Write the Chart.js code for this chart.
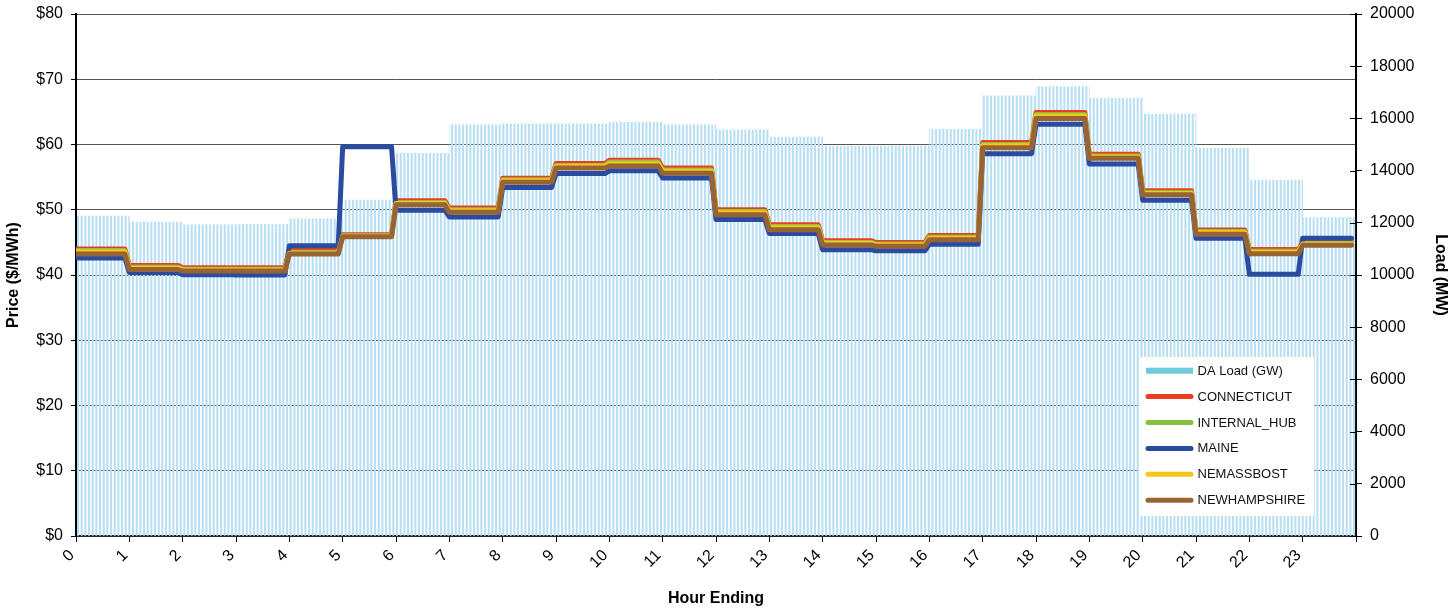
<!DOCTYPE html>
<html>
<head>
<meta charset="utf-8">
<title>Zonal prices and DA load</title>
<script src="https://cdn.jsdelivr.net/npm/chart.js@4/dist/chart.umd.min.js"></script>
<style>
  html, body { margin:0; padding:0; background:#fff; }
</style>
</head>
<body>
<canvas id="chart" width="1456" height="609"></canvas>
<script>
// hourly values
const hours = [0,1,2,3,4,5,6,7,8,9,10,11,12,13,14,15,16,17,18,19,20,21,22,23];
const loadMW = [12260,12030,11920,11930,12150,12870,14660,15750,15790,15790,15850,15750,
                15560,15280,14930,14940,15580,16860,17215,16770,16170,14860,13640,12200];
const connecticut = [44.0,41.46,41.1,41.1,43.75,46.15,51.37,50.25,54.84,57.1,57.6,56.4,
                     50.0,47.7,45.24,44.98,46.05,60.3,64.9,58.5,52.9,46.9,43.9,45.0];
const internalHub = [43.75,41.2,40.9,40.9,43.5,46.0,51.1,50.0,54.6,56.8,57.3,56.1,
                     49.75,47.45,45.0,44.75,45.8,60.0,64.6,58.25,52.65,46.65,43.65,44.85];
const maine = [42.6,40.38,40.03,40.0,44.5,59.65,49.93,48.9,53.4,55.55,55.97,54.85,
               48.5,46.36,43.86,43.7,44.7,58.6,63.1,57.0,51.47,45.64,40.1,45.65];
const neMassBost = [43.55,41.05,40.75,40.75,43.35,45.95,50.95,49.85,54.45,56.65,57.05,55.9,
                    49.55,47.25,44.85,44.6,45.65,59.8,64.35,58.1,52.5,46.5,43.5,44.75];
const newHampshire = [43.2,40.84,40.6,40.6,43.2,45.85,50.76,49.6,54.2,56.4,56.7,55.6,
                      49.25,46.94,44.6,44.4,45.4,59.5,64.0,57.9,52.3,46.25,43.25,44.55];

Chart.defaults.font.family = '"Liberation Sans", Arial, sans-serif';
Chart.defaults.font.size = 16;
Chart.defaults.color = '#000';

// each hour is flat, then ramps during its last 5 minutes
function steps(vals){
  let pts = [];
  vals.forEach((v,i)=>{
    pts.push({x:hours[i], y:v});
    pts.push({x:hours[i]+11/12, y:v});
  });
  return pts;
}

function stripes(color){
  let c = document.createElement('canvas');
  c.width = 11; c.height = 4;
  let g = c.getContext('2d');
  g.fillStyle = color;
  [0, 11/3, 22/3].forEach(x=>g.fillRect(x,0,2.1,4));
  return g.createPattern(c,'repeat');
}

function line(label, vals, color, order){
  return {type:'line', label, data:steps(vals), borderColor:color, backgroundColor:color,
          borderWidth:5, pointRadius:0, tension:0, borderJoinStyle:'round',
          borderCapStyle:'round', yAxisID:'y', order};
}

// no extra room at the top for the tick labels
function noPad(s){ s.paddingTop = 0; s.paddingBottom = 0; }

const legendBox = {
  id:'legendBox',
  afterDatasetsDraw(c){
    const ca = c.chartArea, ctx = c.ctx;
    const y1 = c.scales.y1;
    ctx.save();
    // right axis ticks also poke into the plot
    ctx.strokeStyle = '#000'; ctx.lineWidth = 1;
    y1.ticks.forEach(t=>{
      let p = Math.round(y1.getPixelForValue(t.value)) + 0.5;
      ctx.beginPath(); ctx.moveTo(ca.right-6,p); ctx.lineTo(ca.right,p); ctx.stroke();
    });
    const x = ca.right-217, y = ca.bottom-179;
    ctx.fillStyle = '#fff';
    ctx.fillRect(x,y,175,159);
    ctx.font = '13px "Liberation Sans", Arial, sans-serif';
    ctx.textBaseline = 'middle';
    c.data.datasets.forEach((ds,i)=>{
      let cy = y+13.7+i*25.9;
      if(ds.type==='bar'){
        ctx.fillStyle = ds.legendColor;
        ctx.fillRect(x+7,cy-3,47,6);
      } else {
        ctx.strokeStyle = ds.borderColor; ctx.lineWidth = 5; ctx.lineCap = 'round';
        ctx.beginPath(); ctx.moveTo(x+9,cy); ctx.lineTo(x+52,cy); ctx.stroke();
      }
      ctx.fillStyle = '#111';
      ctx.fillText(ds.label, x+58.5, cy+0.5);
    });
    ctx.restore();
  }
};

new Chart(document.getElementById('chart'), {
  data:{
    datasets:[
      {type:'bar', label:'DA Load (GW)', data:loadMW.map((v,i)=>({x:hours[i]+0.5, y:v})),
       backgroundColor:stripes('#b8dff2'), legendColor:'#6ecbdc', borderWidth:0,
       barPercentage:1, categoryPercentage:1, yAxisID:'y1', order:10},
      line('CONNECTICUT', connecticut, '#ee3b24', 5),
      line('INTERNAL_HUB', internalHub, '#86c240', 4),
      line('MAINE', maine, '#2a4b9f', 3),
      line('NEMASSBOST', neMassBost, '#f7c41c', 2),
      line('NEWHAMPSHIRE', newHampshire, '#986434', 1)
    ]
  },
  options:{
    responsive:false,
    animation:false,
    events:[],
    layout:{padding:{top:14, left:0, right:0, bottom:0}},
    plugins:{legend:{display:false}, tooltip:{enabled:false}},
    scales:{
      x:{
        type:'linear', min:0, max:24, offset:false,
        afterFit(s){ s.height = 73; },
        ticks:{stepSize:1, autoSkip:false, minRotation:45, maxRotation:45, padding:4,
               labelOffset:-4, callback:v=>v<24 ? String(v) : ''},
        grid:{drawOnChartArea:false, offset:false, tickLength:6, color:'#000'},
        border:{color:'#000', width:1.5},
        title:{display:true, text:'Hour Ending', font:{weight:'bold', size:16}, padding:{top:0,bottom:1}}
      },
      y:{
        position:'left', min:0, max:80,
        afterFit(s){ s.width = 76; noPad(s); },
        ticks:{stepSize:10, padding:8, callback:v=>'$'+v},
        grid:{color:'#555', lineWidth:1, tickLength:5, tickColor:'#000'},
        border:{color:'#000', width:2},
        title:{display:true, text:'Price ($/MWh)', font:{weight:'bold', size:16}, padding:{top:4,bottom:0}}
      },
      y1:{
        position:'right', min:0, max:20000,
        afterFit(s){ s.width = 100; noPad(s); },
        ticks:{stepSize:2000, padding:8, callback:v=>String(v)},
        grid:{drawOnChartArea:false, tickLength:6, color:'#000'},
        border:{color:'#000', width:2},
        title:{display:true, text:'Load (MW)', font:{weight:'bold', size:16}, padding:{top:6,bottom:0}}
      }
    }
  },
  plugins:[legendBox]
});
</script>
</body>
</html>
